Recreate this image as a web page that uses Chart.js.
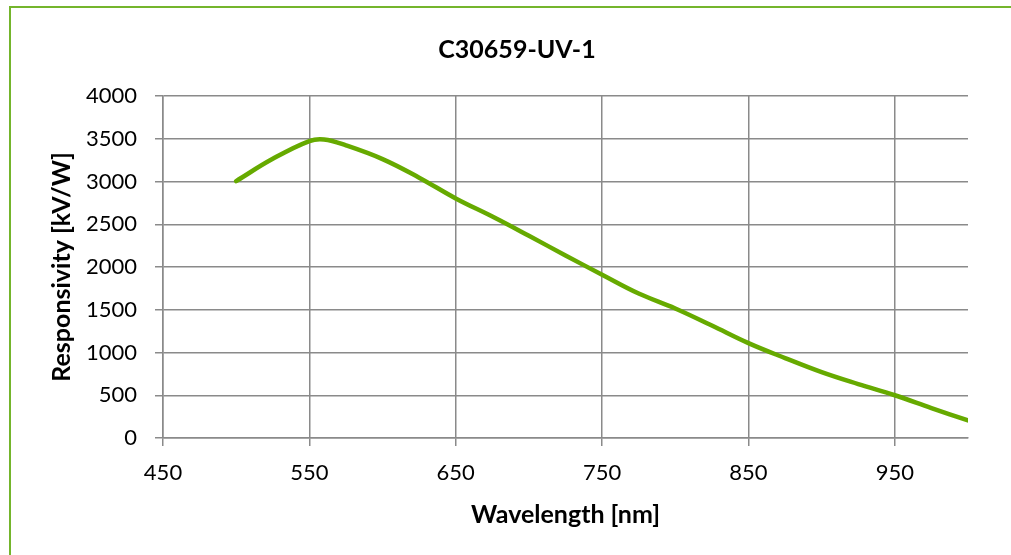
<!DOCTYPE html>
<html>
<head>
<meta charset="utf-8">
<title>C30659-UV-1</title>
<script src="https://cdn.jsdelivr.net/npm/chart.js@4.4.1/dist/chart.umd.min.js"></script>
<style>
    html, body { margin: 0; padding: 0; background: #ffffff; overflow: hidden; }
    #contenedor { position: relative; width: 1011px; height: 555px; }
    #grafico { position: absolute; left: 0; top: 0; }
    /* borde del área del gráfico (solo se ven izquierda y arriba en el recorte) */
    #borde {
        position: absolute; left: 9px; top: 6px; width: 1100px; height: 600px;
        border-left: 2px solid #74B52C; border-top: 2px solid #74B52C;
        pointer-events: none;
    }
</style>
</head>
<body>
<div id="contenedor">
    <canvas id="grafico" width="1011" height="555"></canvas>
    <div id="borde"></div>
</div>
<script>
// Datos
const longitudOnda = [500, 525, 550, 560, 575, 600, 625, 650, 675, 700, 725, 750, 775, 800, 825, 850, 875, 900, 925, 950, 975, 1000];
const responsividad = [3005, 3265, 3473, 3492, 3423, 3262, 3045, 2802, 2590, 2365, 2135, 1910, 1690, 1515, 1315, 1110, 935, 770, 630, 500, 350, 205];

// Marcas de los ejes
const ticksX = [450, 550, 650, 750, 850, 950];
const ticksY = [0, 500, 1000, 1500, 2000, 2500, 3000, 3500, 4000];

const tituloGrafico = 'C30659-UV-1';
const tituloX = 'Wavelength [nm]';
const tituloY = 'Responsivity [kV/W]';

const colorLinea = '#66AA00';
const colorRejilla = '#8A8A8A';
const fuente = 'Lato, "Open Sans", sans-serif';

function crearGrafico() {
    const puntos = longitudOnda.map((x, i) => ({ x: x, y: responsividad[i] }));

    new Chart(document.getElementById('grafico'), {
        type: 'line',
        data: {
            datasets: [{
                label: tituloGrafico,
                data: puntos,
                borderColor: colorLinea,
                borderWidth: 4.5,
                borderCapStyle: 'round',
                pointRadius: 0,
                fill: false,
                tension: 0.4
            }]
        },
        options: {
            responsive: false,
            animation: false,
            devicePixelRatio: 1,
            layout: { padding: { left: 66, right: 43, top: 0, bottom: 24.6 } },
            plugins: {
                legend: { display: false },
                tooltip: { enabled: false },
                title: {
                    display: true,
                    text: tituloGrafico,
                    color: '#000000',
                    font: { family: fuente, size: 25, weight: 'bold' },
                    padding: { top: 35, bottom: 31 }
                }
            },
            scales: {
                x: {
                    type: 'linear',
                    min: 450,
                    max: 1000,
                    afterBuildTicks: (eje) => { eje.ticks = ticksX.map(v => ({ value: v })); },
                    grid: { color: colorRejilla, lineWidth: 1.5, tickLength: 8, tickColor: colorRejilla },
                    border: { color: colorRejilla, width: 1.5 },
                    ticks: {
                        color: '#000000',
                        padding: 14,
                        maxRotation: 0,
                        font: { family: fuente, size: 22 }
                    },
                    title: {
                        display: true,
                        text: tituloX,
                        color: '#000000',
                        font: { family: fuente, size: 25, weight: 'bold' },
                        padding: { top: 0, bottom: 0 }
                    }
                },
                y: {
                    min: 0,
                    max: 4000,
                    afterBuildTicks: (eje) => { eje.ticks = ticksY.map(v => ({ value: v })); },
                    afterFit: (eje) => { eje.width = 97; },
                    grid: { color: colorRejilla, lineWidth: 1.5, tickLength: 8, tickColor: colorRejilla },
                    border: { color: colorRejilla, width: 1.5 },
                    ticks: {
                        color: '#000000',
                        padding: 18,
                        font: { family: fuente, size: 22 },
                        callback: (valor) => String(valor)
                    },
                    title: {
                        display: true,
                        text: tituloY,
                        color: '#000000',
                        font: { family: fuente, size: 25, weight: 'bold' },
                        padding: { top: -19, bottom: 0 }
                    }
                }
            }
        }
    });
}

document.addEventListener('DOMContentLoaded', () => {
    crearGrafico();
});
</script>
</body>
</html>
